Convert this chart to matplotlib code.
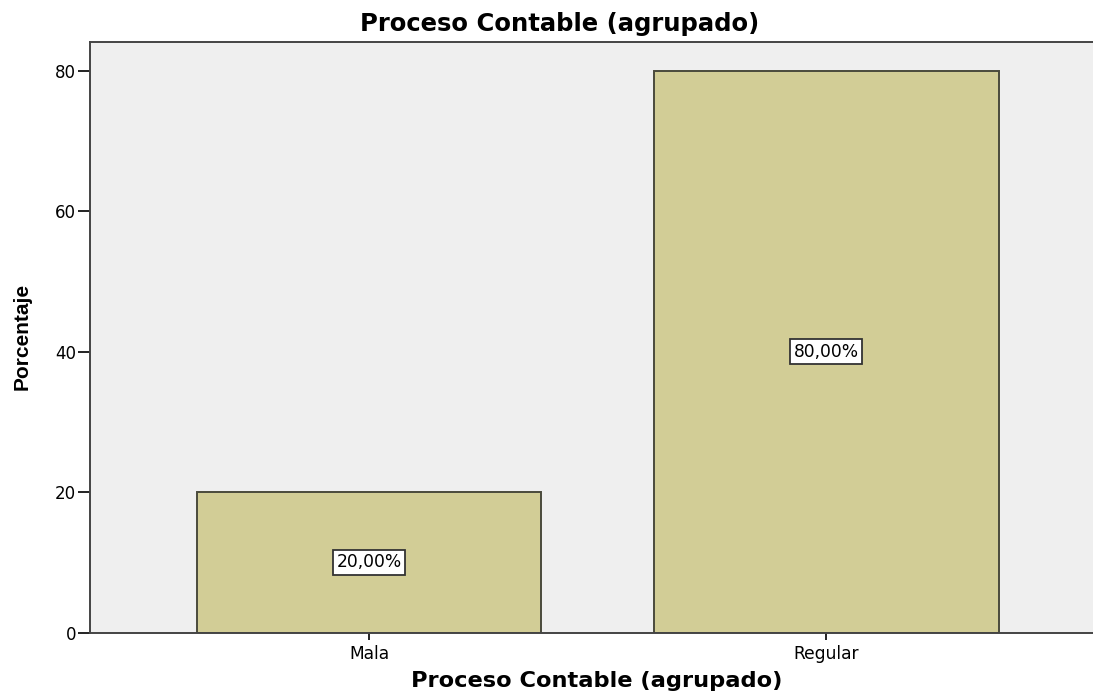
import matplotlib
matplotlib.use('Agg')
import matplotlib.pyplot as plt

categories = ['Mala', 'Regular']
porcentajes = [20.0, 80.0]
etiquetas = ['20,00%', '80,00%']
yticks = [0, 20, 40, 60, 80]

# reference text looks stretched sideways -> wide DejaVu for horizontal text
plt.rcParams['font.family'] = ['DejaVu Sans']

W, H = 1093, 699
left, right, top, bottom = 90, 1093, 42, 632.5

fig = plt.figure(figsize=(W / 100, H / 100), dpi=100)
ax = fig.add_axes([left / W, 1 - bottom / H, (right - left) / W, (bottom - top) / H])
ax.set_facecolor('#efefef')

x = range(len(categories))
ax.bar(x, porcentajes, width=0.753, color='#d2cd96', edgecolor='#4a4a3c', linewidth=1.4, zorder=2)

for xi, v, t in zip(x, porcentajes, etiquetas):
    ax.text(xi, v / 2, t, ha='center', va='center', fontsize=12.3, zorder=3,
            bbox=dict(boxstyle='square,pad=0.2', fc='white', ec='#333333', lw=1.3))

ax.set_xlim(-0.61, 1.583)
ax.set_ylim(0, 84.1)
ax.set_xticks(list(x))
ax.set_xticklabels(categories, fontsize=12.3)
ax.set_yticks(yticks)
ax.tick_params(axis='y', labelsize=12, length=9, width=1.4, pad=1, color='#222222')
ax.tick_params(axis='x', length=5, width=1.4, pad=4, color='#222222')

ax.spines['right'].set_visible(False)
for s in ['left', 'bottom', 'top']:
    ax.spines[s].set_linewidth(1.4)
    ax.spines[s].set_color('#444444')

aw = right - left
ah = bottom - top
ax.set_title('Proceso Contable (agrupado)', fontsize=17.5, fontweight='bold', pad=8,
             x=(560 - left) / aw)
ax.set_xlabel('Proceso Contable (agrupado)', fontsize=16.2, fontweight='bold')
ax.xaxis.set_label_coords((597 - left) / aw, -(671 - bottom) / ah)

fig.text(22 / W, 1 - 336 / H, 'Porcentaje', rotation=90, ha='center', va='center',
         fontsize=15, fontweight='bold', family=['Liberation Sans', 'DejaVu Sans'])

fig.savefig('out.png', dpi=100)
